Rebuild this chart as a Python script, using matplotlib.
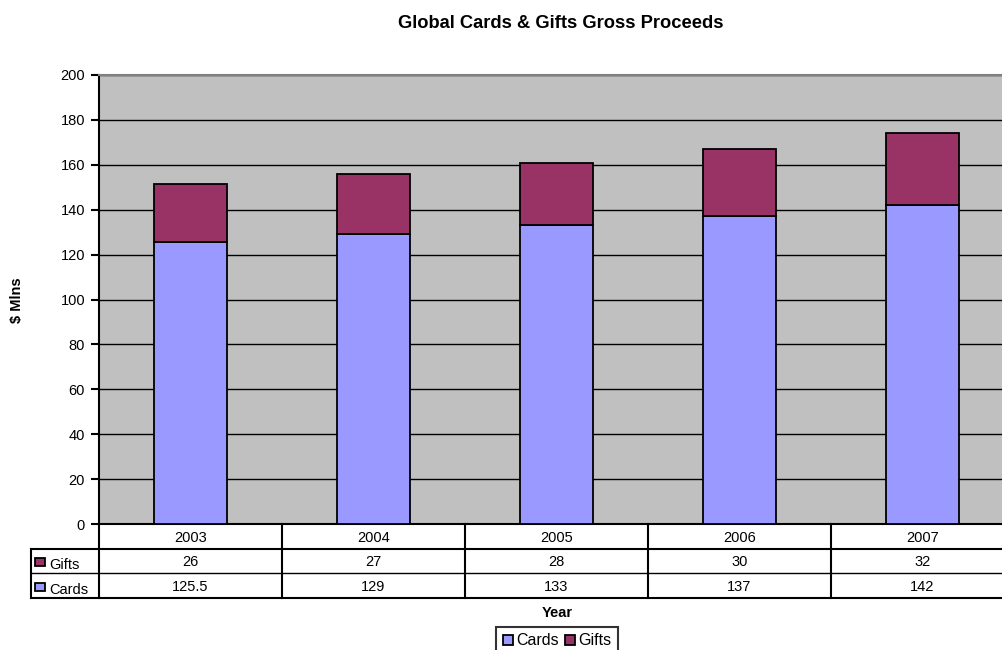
import numpy as np
import matplotlib.pyplot as plt
from matplotlib.patches import Patch, Rectangle

years = ['2003', '2004', '2005', '2006', '2007']
cards = [125.5, 129, 133, 137, 142]
gifts = [26, 27, 28, 30, 32]
cards_col = '#9999FF'
gifts_col = '#993366'

plt.rcParams['font.family'] = ['Liberation Sans', 'DejaVu Sans']

W, H = 1003, 650
fig = plt.figure(figsize=(W / 100, H / 100), dpi=100)

def fx(px):
    return px / W

def fy(py):
    return 1 - py / H

# plot area runs past the right edge of the picture, like the original
x0, x1 = 99, 1014
ax = fig.add_axes([fx(x0), fy(524), fx(x1) - fx(x0), fy(75) - fy(524)])
ax.set_facecolor('#C0C0C0')
x = np.arange(len(years))
ax.bar(x, cards, width=0.4, color=cards_col, edgecolor='black', linewidth=1.3, zorder=3)
ax.bar(x, gifts, width=0.4, bottom=cards, color=gifts_col, edgecolor='black', linewidth=1.3, zorder=3)
ax.set_xlim(-0.5, len(years) - 0.5)
ax.set_ylim(0, 200)
ax.set_yticks(range(0, 201, 20))
ax.yaxis.grid(True, color='black', linewidth=1)
ax.set_axisbelow(True)
ax.set_xticks([])
ax.tick_params(axis='y', direction='out', length=6, width=1.5, labelsize=10.5, pad=4)
ax.spines['left'].set_linewidth(1.5)
ax.spines['bottom'].set_linewidth(1.5)
ax.spines['top'].set_color('#808080')
ax.spines['top'].set_linewidth(1.5)
ax.spines['right'].set_visible(False)

fig.text(fx(17), fy(300), '$ Mlns', rotation=90, ha='center', va='center',
         fontsize=10.5, fontweight='bold')
fig.text(fx(561), fy(23), 'Global Cards & Gifts Gross Proceeds', ha='center', va='center',
         fontsize=13.2, fontweight='bold')

# data table under the plot (label column 31..99, rows 524..598)
cat_px = (x1 - x0) / len(years)
lab_w = (x0 - 31) / cat_px
tax = fig.add_axes([fx(31), fy(598), fx(x1) - fx(31), fy(524) - fy(598)])
tax.set_xlim(-0.5 - lab_w, len(years) - 0.5)
tax.set_ylim(0, 3)
tax.axis('off')
left = -0.5 - lab_w
right = len(years) - 0.5
tax.plot([left, right], [2, 2], color='black', lw=1.5, clip_on=False)
tax.plot([left, right], [1, 1], color='black', lw=1, clip_on=False)
tax.plot([left, right], [0, 0], color='black', lw=1.5, clip_on=False)
tax.plot([left, left], [0, 2], color='black', lw=1.5, clip_on=False)
for i in range(len(years) + 1):
    tax.plot([i - 0.5, i - 0.5], [0, 3], color='black', lw=1.5, clip_on=False)
for i, yr in enumerate(years):
    tax.text(i, 2.45, yr, ha='center', va='center', fontsize=10.5)
    tax.text(i, 1.45, f'{gifts[i]:g}', ha='center', va='center', fontsize=10.5)
    tax.text(i, 0.45, f'{cards[i]:g}', ha='center', va='center', fontsize=10.5)
for row, name, col in [(1, 'Gifts', gifts_col), (0, 'Cards', cards_col)]:
    tax.add_patch(Rectangle((left + 3.5 / cat_px, row + 0.28), 10.5 / cat_px, 0.34, facecolor=col,
                            edgecolor='black', lw=1.3, clip_on=False))
    tax.text(left + 18 / cat_px, row + 0.33, name, ha='left', va='center', fontsize=10.5)

fig.text(fx(557), fy(613), 'Year', ha='center', va='center', fontsize=10.5, fontweight='bold')

handles = [Patch(facecolor=cards_col, edgecolor='black', linewidth=1.3, label='Cards'),
           Patch(facecolor=gifts_col, edgecolor='black', linewidth=1.3, label='Gifts')]
leg = fig.legend(handles=handles, loc='upper center', bbox_to_anchor=(fx(557), fy(627)), ncol=2,
                 fontsize=11.5, frameon=True, fancybox=False, edgecolor='black',
                 handlelength=0.65, handleheight=0.6, handletextpad=0.2, columnspacing=0.35,
                 borderpad=0.4, borderaxespad=0)
leg.get_frame().set_linewidth(1.5)

fig.savefig('out.png', dpi=100)
